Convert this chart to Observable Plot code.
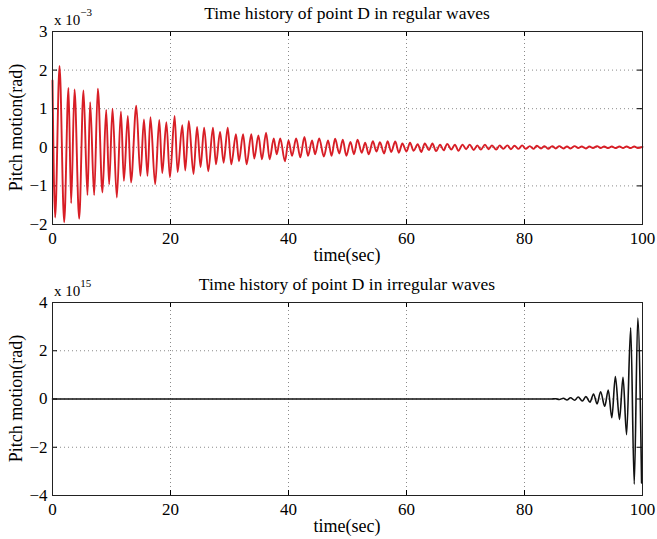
<!DOCTYPE html>
<html><head><meta charset="utf-8">
<script src="https://cdn.jsdelivr.net/npm/d3@7"></script>
<script src="https://cdn.jsdelivr.net/npm/@observablehq/plot@0.6"></script>
<style>
body{margin:0;background:#fff;}
#chart{position:relative;width:657px;height:539px;background:#fff;}
#chart svg{position:absolute;left:0;}
</style>
</head><body><div id="chart"></div>
<script>
// Regular waves: extrema of pitch motion (units of 10^-3 rad)
const regularTime = [
  0, 0.45, 1.19, 1.98, 2.71, 3.16, 3.73, 4.52, 5.25, 5.93,
  6.38, 7.06, 7.68, 8.47, 9.10, 9.60, 10.17, 10.90, 11.60, 12.10,
  12.77, 13.30, 14.20, 14.90, 15.50, 16.10, 16.60, 17.40, 18.10, 18.60,
  19.30, 19.90, 20.70, 21.20, 22.00, 22.50, 23.10, 23.90, 24.50, 25.10,
  25.70, 26.40, 27.20, 27.70, 28.40, 29.00, 29.70, 30.30, 31.10, 31.60,
  32.30, 32.90, 33.70, 34.20, 34.90, 35.50, 36.20, 36.80, 37.50, 38.00,
  38.60, 39.40, 40.00, 40.60, 41.30, 42.00, 42.70, 43.30, 44.00, 44.50,
  45.20, 46.00, 46.70, 47.30, 47.90, 48.60, 49.20, 49.80, 50.50, 51.10,
  51.70, 52.40, 53.00, 53.60, 54.30, 54.90, 55.50, 56.20, 56.80, 57.40,
  58.10, 58.70, 59.30, 60.00, 60.60, 61.20, 61.90, 62.50, 63.10, 63.80,
  64.40, 65.00, 65.70, 66.30, 66.90, 67.60, 68.20, 68.80, 69.50, 70.10,
  70.70, 71.40, 72.00, 72.60, 73.30, 73.90, 74.50, 75.20, 75.80, 76.40,
  77.10, 77.70, 78.30, 79.00, 79.60, 80.20, 80.90, 81.50, 82.10, 82.80,
  83.40, 84.00, 84.70, 85.30, 85.90, 86.60, 87.20, 87.80, 88.50, 89.10,
  89.70, 90.40, 91.00, 91.60, 92.30, 92.90, 93.50, 94.20, 94.80, 95.40,
  96.10, 96.70, 97.30, 98.00, 98.60, 99.20, 100
];
const regularPitch = [
  1.73, -1.82, 2.11, -1.94, 1.54, -1.45, 1.50, -1.85, 1.47, -1.24,
  1.17, -1.24, 1.52, -1.17, 0.97, -0.96, 1.00, -1.30, 0.93, -0.87,
  0.81, -0.91, 1.08, -0.74, 0.72, -0.74, 0.78, -0.96, 0.71, -0.67,
  0.65, -0.78, 0.81, -0.64, 0.57, -0.60, 0.68, -0.69, 0.53, -0.51,
  0.51, -0.62, 0.51, -0.44, 0.40, -0.40, 0.51, -0.44, 0.34, -0.36,
  0.34, -0.44, 0.34, -0.29, 0.31, -0.31, 0.38, -0.31, 0.23, -0.18,
  0.23, -0.36, 0.18, -0.22, 0.23, -0.26, 0.27, -0.22, 0.18, -0.18,
  0.23, -0.24, 0.18, -0.22, 0.22, -0.16, 0.20, -0.22, 0.14, -0.18,
  0.20, -0.14, 0.12, -0.18, 0.16, -0.11, 0.13, -0.16, 0.16, -0.12,
  0.15, -0.14, 0.10, -0.11, 0.12, -0.09, 0.08, -0.12, 0.10, -0.07,
  0.10, -0.10, 0.07, -0.08, 0.09, -0.06, 0.07, -0.09, 0.07, -0.05,
  0.07, -0.07, 0.05, -0.06, 0.07, -0.05, 0.05, -0.06, 0.05, -0.04,
  0.05, -0.05, 0.04, -0.04, 0.05, -0.04, 0.03, -0.04, 0.04, -0.03,
  0.03, -0.04, 0.03, -0.03, 0.03, -0.03, 0.02, -0.03, 0.03, -0.02,
  0.02, -0.03, 0.02, -0.02, 0.03, -0.02, 0.02, -0.02, 0.02, -0.02,
  0.02, -0.02, 0.02, -0.02, 0.02, -0.02, 0.01
];
// Irregular waves: extrema of pitch motion (units of 10^15 rad)
const irregularTime = [
  0, 84.60, 85.30, 85.90, 86.60, 87.20, 87.80, 88.50, 89.10, 89.80,
  90.40, 91.10, 91.70, 92.30, 92.90, 93.60, 94.20, 94.80, 95.40, 96.10,
  96.70, 97.30, 98.00, 98.60, 99.20, 99.85
];
const irregularPitch = [
  0, 0, 0.01, -0.02, 0.03, -0.04, 0.05, -0.05, 0.08, -0.08,
  0.10, -0.13, 0.21, -0.20, 0.30, -0.30, 0.37, -0.78, 0.93, -0.85,
  0.90, -1.48, 2.95, -3.53, 3.36, -3.48
];
const xTicks = [0, 20, 40, 60, 80, 100];
const regularYTicks = [-2, -1, 0, 1, 2, 3];
const irregularYTicks = [-4, -2, 0, 2, 4];
const titles = ["Time history of point D in regular waves", "Time history of point D in irregular waves"];
const exponents = ["\u22123", "15"];
const xLabel = "time(sec)";
const yLabel = "Pitch motion(rad)";

const W = 657, ML = 52, MR = 15, MT = 31, FH = 193;
const FW = W - ML - MR;
const FONT = "'Liberation Serif', 'Times New Roman', serif";

function panel({time, pitch, color, width, yDomain, yTicks, title, exponent, height, top}) {
  const data = time.map((t, i) => ({t, v: pitch[i]}));
  const MB = height - MT - FH;
  const gridStyle = {stroke: "#8a8a8a", strokeOpacity: 1, strokeWidth: 1, strokeDasharray: "1,3"};
  const svg = Plot.plot({
    width: W, height,
    marginLeft: ML, marginRight: MR, marginTop: MT, marginBottom: MB,
    style: {fontFamily: FONT, fontSize: "17px", color: "black", background: "white", overflow: "visible"},
    x: {domain: [0, 100], ticks: xTicks, label: null},
    y: {domain: yDomain, ticks: yTicks, label: null},
    marks: [
      Plot.ruleX(xTicks.slice(1, -1), gridStyle),
      Plot.ruleY(yTicks.slice(1, -1), gridStyle),
      Plot.ruleX(xTicks, {stroke: "black", insetTop: FH - 5}),
      Plot.ruleX(xTicks, {stroke: "black", insetBottom: FH - 5}),
      Plot.ruleY(yTicks, {stroke: "black", insetRight: FW - 5}),
      Plot.ruleY(yTicks, {stroke: "black", insetLeft: FW - 5}),
      Plot.axisX(xTicks, {tickSize: 0, tickPadding: 7, fontSize: 17, label: null}),
      Plot.axisY(yTicks, {tickSize: 0, tickPadding: 5, fontSize: 17, label: null}),
      Plot.line(data, {x: "t", y: "v", stroke: color, strokeWidth: width, curve: "monotone-x"}),
      Plot.frame({stroke: "#222", strokeWidth: 1})
    ]
  });
  const s = d3.select(svg);
  s.append("text").attr("x", ML + FW / 2).attr("y", MT - 12)
    .attr("text-anchor", "middle").attr("font-size", 17.5).attr("fill", "black").text(title);
  const ex = s.append("text").attr("x", 54).attr("y", MT - 6).attr("text-anchor", "start")
    .attr("font-size", 15).attr("fill", "black");
  ex.append("tspan").text("x 10");
  ex.append("tspan").attr("dy", -9).attr("font-size", 11).text(exponent);
  s.append("text").attr("transform", `translate(21.5,${MT + FH / 2}) rotate(-90)`)
    .attr("text-anchor", "middle").attr("font-size", 18).attr("fill", "black").text(yLabel);
  s.append("text").attr("x", ML + FW / 2).attr("y", MT + FH + 36.5)
    .attr("text-anchor", "middle").attr("font-size", 18).attr("fill", "black").text(xLabel);
  svg.style.top = top + "px";
  return svg;
}

const chart = document.getElementById("chart");
chart.appendChild(panel({time: regularTime, pitch: regularPitch, color: "#d81e26", width: 1.9,
  yDomain: [-2, 3], yTicks: regularYTicks, title: titles[0], exponent: exponents[0], height: 269, top: 0}));
chart.appendChild(panel({time: irregularTime, pitch: irregularPitch, color: "#111", width: 1.6,
  yDomain: [-4, 4], yTicks: irregularYTicks, title: titles[1], exponent: exponents[1], height: 268, top: 271}));
</script>
</body></html>
